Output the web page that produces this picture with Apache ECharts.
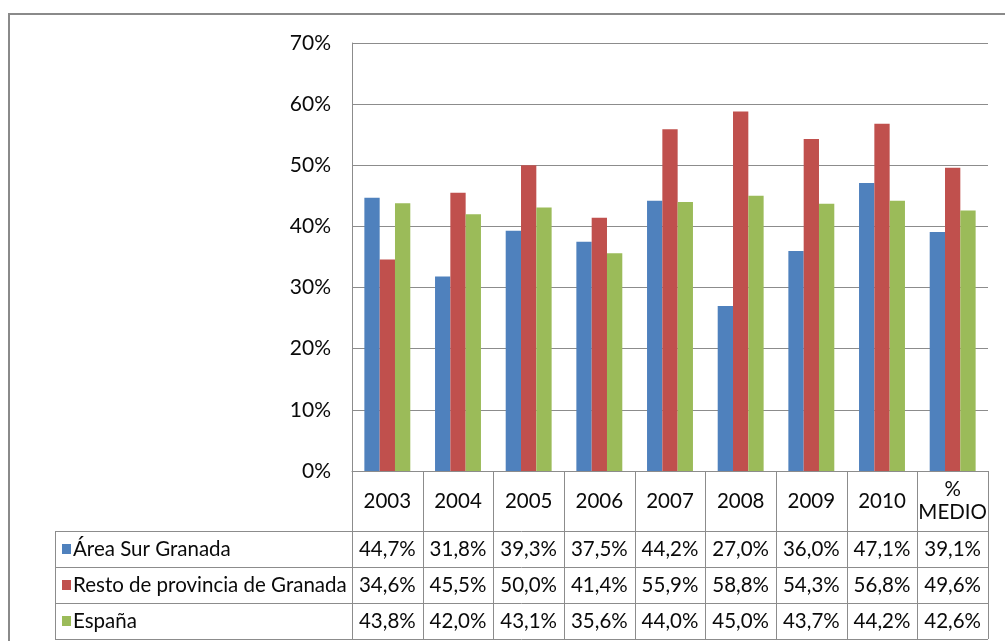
<!DOCTYPE html>
<html>
<head>
<meta charset="utf-8">
<script src="https://cdn.jsdelivr.net/npm/echarts@6/dist/echarts.min.js"></script>
<style>
  html, body { margin: 0; padding: 0; background: #fff; }
  #chart { width: 1005px; height: 641px; }
</style>
</head>
<body>
<div id="chart"></div>
<script>
// Years plus the average column
const categories = ['2003', '2004', '2005', '2006', '2007', '2008', '2009', '2010', '%\nMEDIO'];
const seriesNames = ['Área Sur Granada', 'Resto de provincia de Granada', 'España'];
const areaSur = [44.7, 31.8, 39.3, 37.5, 44.2, 27.0, 36.0, 47.1, 39.1];
const restoProvincia = [34.6, 45.5, 50.0, 41.4, 55.9, 58.8, 54.3, 56.8, 49.6];
const espana = [43.8, 42.0, 43.1, 35.6, 44.0, 45.0, 43.7, 44.2, 42.6];
const colors = ['#4F81BD', '#C0504D', '#9BBB59'];

const FONT = 'Lato, "DejaVu Sans", sans-serif';
const TEXT = '#0a0a0a';
const LINE = '#8c8c8c';
const GRID = { left: 352, right: 17, top: 43, bottom: 170 };
const ROW_H = 36;
const HEADER_H = 60;
const TABLE_LEFT = 55;
const TABLE_FONT = 20.5;

const fmt = v => v.toFixed(1).replace('.', ',') + '%';

const chart = echarts.init(document.getElementById('chart'), null, { renderer: 'canvas' });

chart.setOption({
  backgroundColor: '#fff',
  animation: false,
  grid: GRID,
  xAxis: {
    type: 'category',
    data: categories,
    boundaryGap: true,
    axisLine: { show: true, lineStyle: { color: LINE, width: 1 } },
    axisTick: { show: false },
    axisLabel: {
      margin: HEADER_H / 2,
      verticalAlign: 'middle',
      fontFamily: FONT,
      fontSize: TABLE_FONT,
      lineHeight: 23,
      color: TEXT,
      interval: 0
    }
  },
  yAxis: {
    type: 'value',
    min: 0,
    max: 70,
    interval: 10,
    axisLine: { show: true, lineStyle: { color: LINE, width: 1 } },
    axisTick: { show: false },
    splitLine: { lineStyle: { color: LINE, width: 1 } },
    axisLabel: {
      formatter: '{value}%',
      margin: 21,
      fontFamily: FONT,
      fontSize: 21,
      color: TEXT
    }
  },
  series: [areaSur, restoProvincia, espana].map((data, i) => ({
    name: seriesNames[i],
    type: 'bar',
    data: data,
    barGap: '0%',
    barCategoryGap: '35%',
    itemStyle: { color: colors[i] }
  }))
});

// Data table drawn under the plot, aligned with the category axis
function buildTable() {
  const n = categories.length;
  const x0 = chart.convertToPixel({ xAxisIndex: 0 }, 0);
  const x1 = chart.convertToPixel({ xAxisIndex: 0 }, 1);
  const colW = x1 - x0;
  const left = x0 - colW / 2;
  const right = left + colW * n;
  const axisY = chart.convertToPixel({ yAxisIndex: 0 }, 0);
  const headerBottom = axisY + HEADER_H;
  const tableBottom = headerBottom + ROW_H * 3;
  const els = [];

  // outer frame of the chart area
  els.push({
    type: 'rect',
    shape: { x: 9, y: 14, width: 1200, height: 800 },
    style: { fill: null, stroke: '#8a8a8a', lineWidth: 2 },
    silent: true
  });

  // vertical column lines
  for (let i = 0; i <= n; i++) {
    const x = Math.round(left + i * colW) + 0.5;
    els.push({
      type: 'line',
      shape: { x1: x, y1: axisY, x2: x, y2: tableBottom },
      style: { stroke: LINE, lineWidth: 1 },
      silent: true
    });
  }
  // left border of the series-name column
  els.push({
    type: 'line',
    shape: { x1: TABLE_LEFT + 0.5, y1: headerBottom, x2: TABLE_LEFT + 0.5, y2: tableBottom },
    style: { stroke: LINE, lineWidth: 1 },
    silent: true
  });
  // horizontal row lines
  for (let r = 0; r <= 3; r++) {
    const y = Math.round(headerBottom + r * ROW_H) + 0.5;
    els.push({
      type: 'line',
      shape: { x1: TABLE_LEFT, y1: y, x2: right, y2: y },
      style: { stroke: LINE, lineWidth: 1 },
      silent: true
    });
  }

  [areaSur, restoProvincia, espana].forEach((data, r) => {
    const cy = headerBottom + r * ROW_H + ROW_H / 2;
    // legend key + series name
    els.push({
      type: 'rect',
      shape: { x: 62, y: Math.round(cy - 5), width: 9, height: 10 },
      style: { fill: colors[r] },
      silent: true
    });
    els.push({
      type: 'text',
      x: 73,
      y: cy,
      style: {
        text: seriesNames[r],
        fontFamily: FONT,
        fontSize: TABLE_FONT,
        fill: TEXT,
        verticalAlign: 'middle',
        align: 'left'
      },
      silent: true
    });
    data.forEach((v, c) => {
      els.push({
        type: 'text',
        x: left + c * colW + colW / 2,
        y: cy,
        style: {
          text: fmt(v),
          fontFamily: FONT,
          fontSize: TABLE_FONT,
          fill: TEXT,
          align: 'center',
          verticalAlign: 'middle'
        },
        silent: true
      });
    });
  });

  chart.setOption({ graphic: { elements: els } });
}

buildTable();
</script>
</body>
</html>
